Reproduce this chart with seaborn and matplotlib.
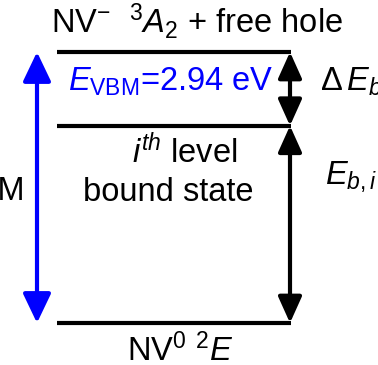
import matplotlib
matplotlib.use("Agg")
import matplotlib.pyplot as plt
import seaborn as sns
import pandas as pd

# ---- data ----
level_names = ["NV0 2E", "bound state", "NV- 3A2 + hole"]
level_energy = [0.0, 2.14, 2.94]       # eV
level_x_start = [57, 57, 57]
level_x_end = [291, 291, 291]
e_vbm = 2.94

sns.set_theme(style="white")
plt.rcParams['font.family'] = ['Liberation Sans', 'DejaVu Sans']
plt.rcParams['mathtext.fontset'] = 'custom'
plt.rcParams['mathtext.rm'] = 'Liberation Sans'
plt.rcParams['mathtext.it'] = 'Liberation Sans:italic'
plt.rcParams['mathtext.bf'] = 'Liberation Sans:bold'

W, H = 378, 365
fig = plt.figure(figsize=(W / 100, H / 100), dpi=100)
ax = fig.add_axes([0, 0, 1, 1])
ax.set_xlim(0, W)
scale = (323 - 52) / e_vbm
ax.set_ylim(-(H - 323) / scale, 323 / scale)
ax.axis("off")

rows = []
for n, e, a, b in zip(level_names, level_energy, level_x_start, level_x_end):
    rows.append({"level": n, "x": a, "E": e})
    rows.append({"level": n, "x": b, "E": e})
df = pd.DataFrame(rows)
sns.lineplot(data=df, x="x", y="E", units="level", estimator=None,
             color="black", lw=3, ax=ax, solid_capstyle="butt")

def darrow(x, y0, y1, color, hl, hw):
    ax.annotate("", xy=(x, y1), xytext=(x, y0),
                arrowprops=dict(arrowstyle=f"<|-|>,head_length={hl},head_width={hw}",
                                color=color, lw=3, shrinkA=0, shrinkB=0,
                                mutation_scale=20))

darrow(37, level_energy[0], level_energy[2], "blue", 0.9, 0.43)
darrow(290, level_energy[1], level_energy[2], "black", 0.8, 0.36)
darrow(290, level_energy[0], level_energy[1], "black", 0.8, 0.36)

fs = 23.5
def t(px, py, s, ha="center", color="black", size=fs):
    ax.text(px / W, 1 - py / H, s, transform=ax.transAxes, ha=ha, va="baseline",
            fontsize=size, color=color)

t(197, 33, r"NV$^{-}$  $^{3}A_{2}$ + free hole")
t(171, 91, r"$E_{\rm VBM}$=2.94 eV", color="blue")
t(320, 91, r"$\Delta\,E_{b}$", ha="left")
t(184.5, 163, r"$i^{th}$ level")
t(168, 201, "bound state")
t(325, 184, r"$E_{b,i}$", ha="left")
t(180, 361, r"NV$^{0}$ $^{2}E$")
t(25, 200, "VBM", ha="right")

fig.savefig("out.png", dpi=100)
